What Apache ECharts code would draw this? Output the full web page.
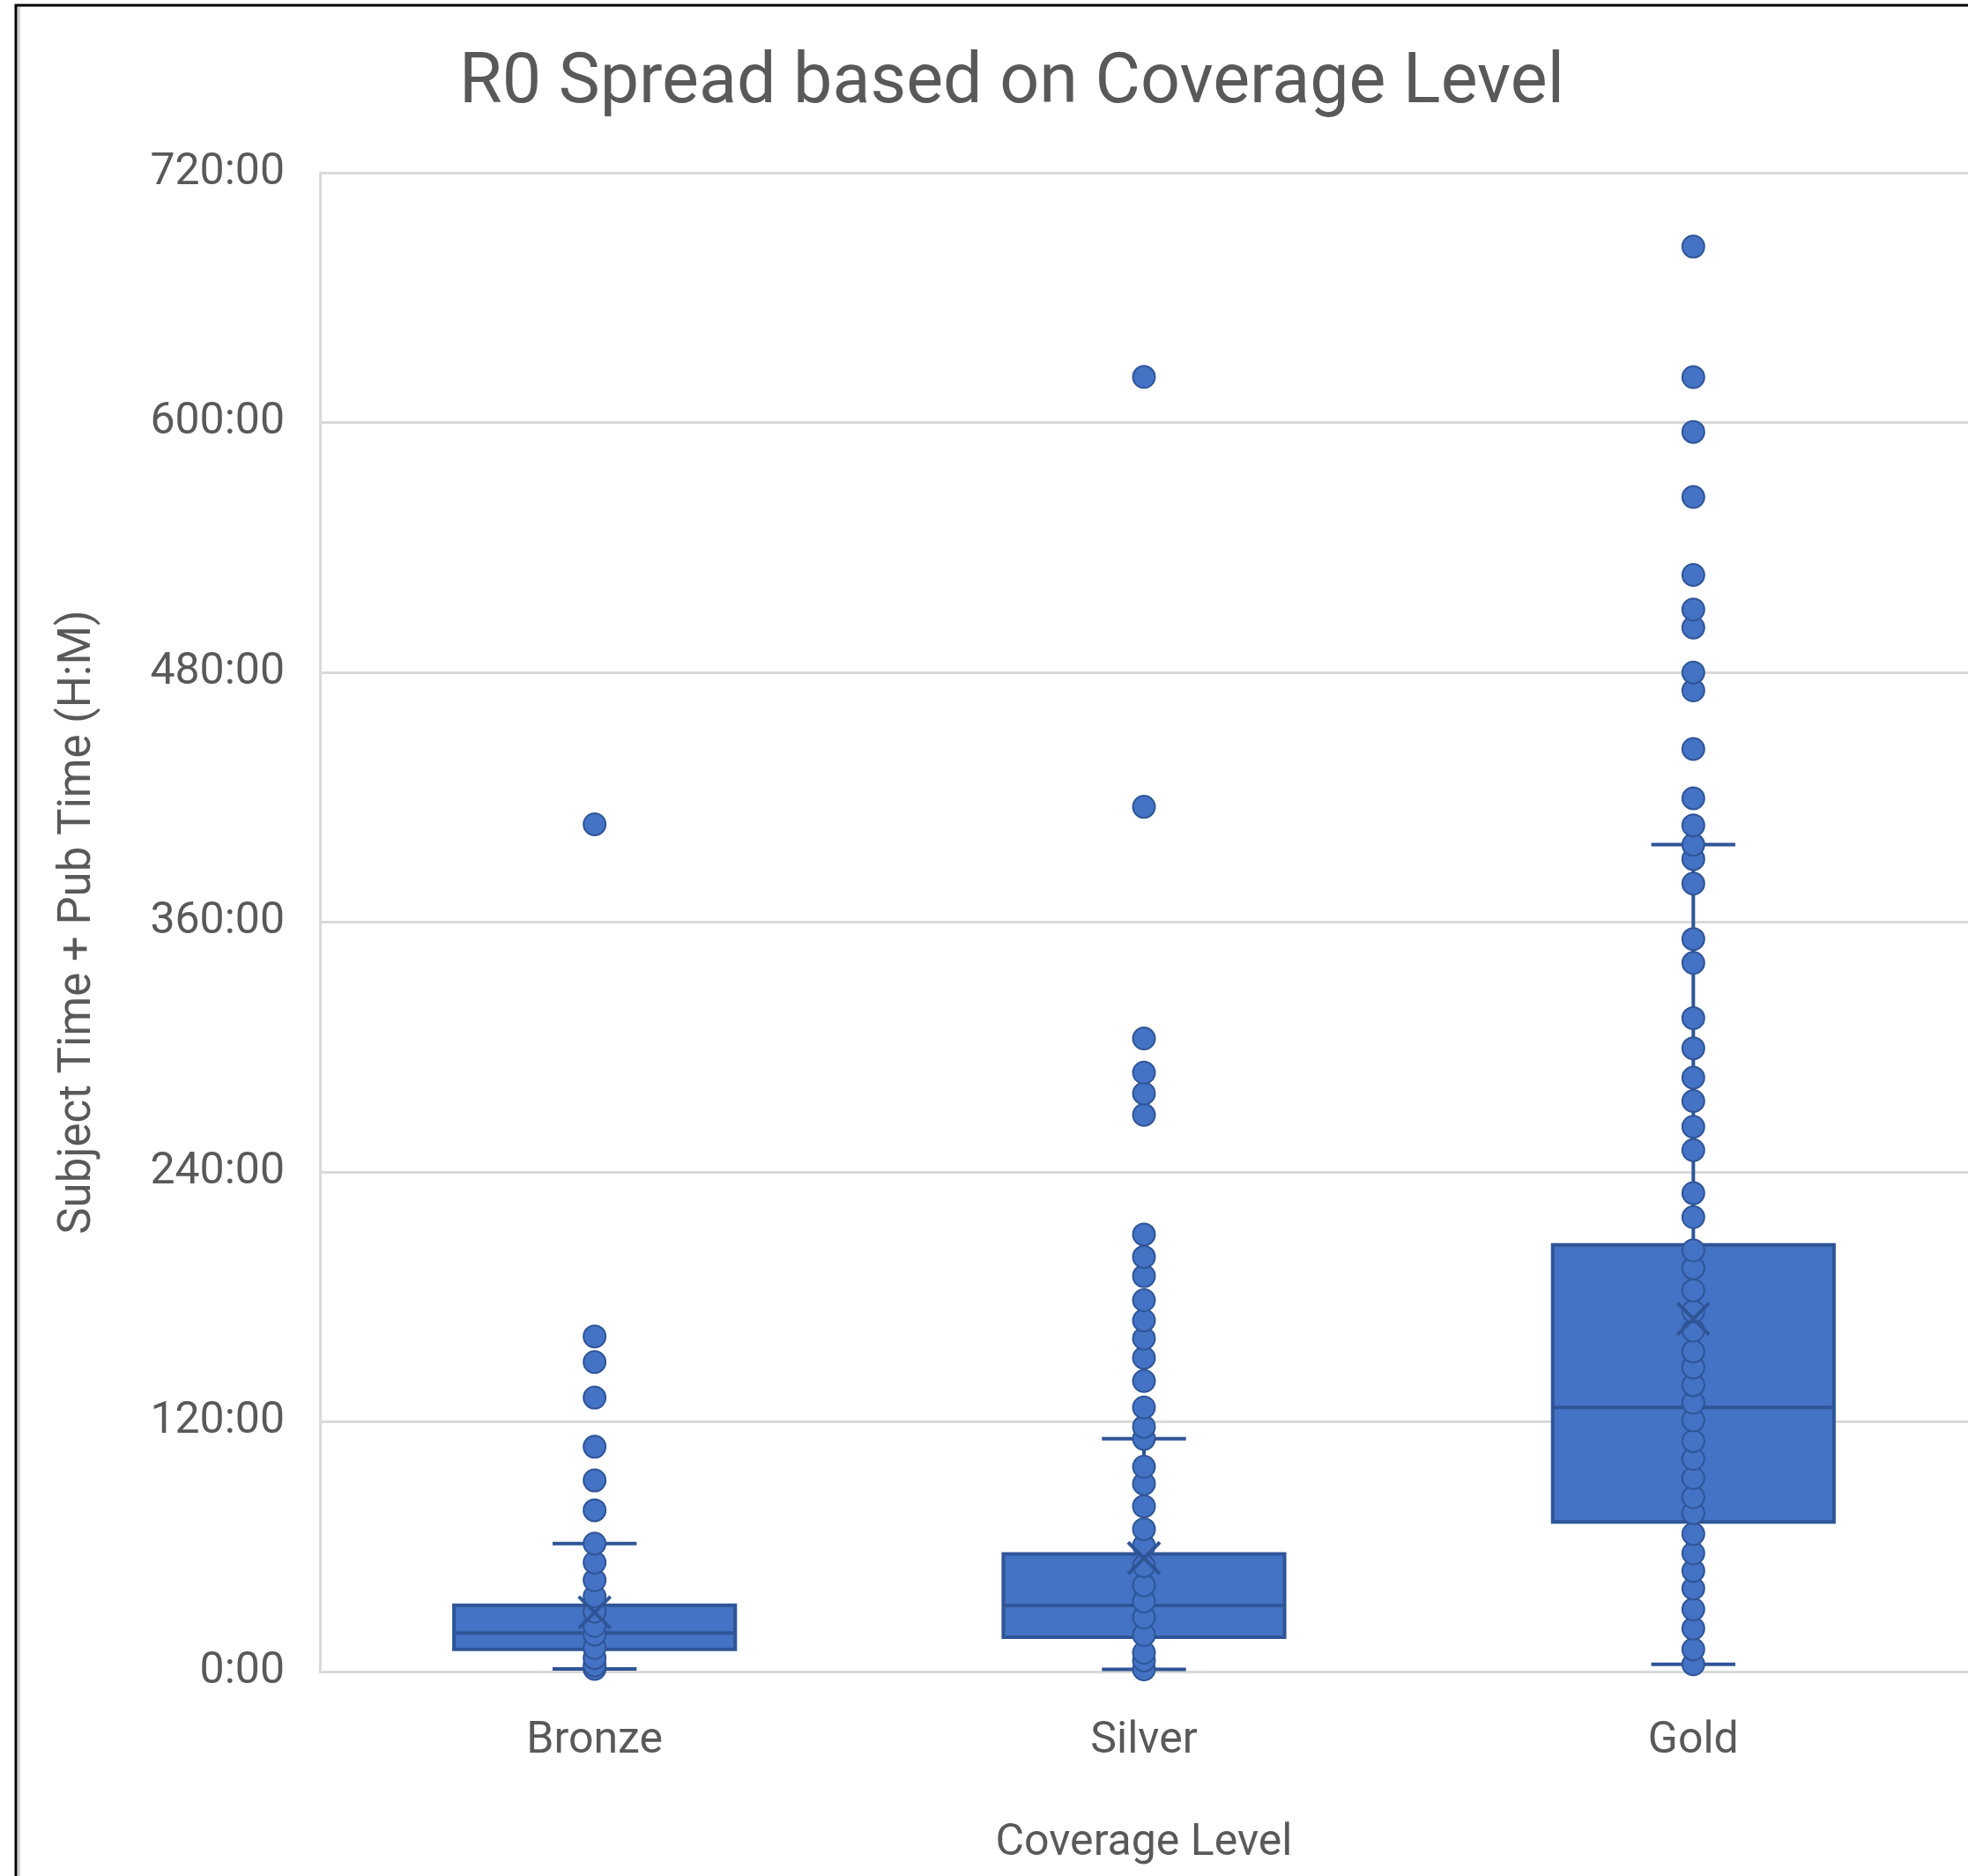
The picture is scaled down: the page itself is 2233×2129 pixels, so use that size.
<!DOCTYPE html>
<html>
<head>
<meta charset="utf-8">
<script src="https://cdn.jsdelivr.net/npm/echarts@6/dist/echarts.min.js"></script>
<style>
html,body{margin:0;padding:0;background:#fff;}
#chart{width:2233px;height:2129px;}
</style>
</head>
<body>
<div id="chart"></div>
<script>
// ---- data (hours) ----
const categories = ['Bronze', 'Silver', 'Gold'];
const yTicks = [0, 120, 240, 360, 480, 600, 720];

const whiskerLow  = [1.3, 1.1, 3.5];
const q1Values    = [10.7, 16.5, 71.8];
const medianVals  = [18.5, 31.7, 126.9];
const q3Values    = [31.9, 56.5, 205.0];
const whiskerHigh = [61.5, 111.8, 397.2];
const meanValues  = [28.4, 54.5, 169.5];

const bronzePoints = [1.3, 3.0, 6.5, 11.4, 17.8, 22.0, 28.8, 36.1, 43.9, 52.4, 61.5,
  77.5, 91.8, 108.0, 131.6, 148.7, 161.0, 407.0];
const silverPoints = [1.1, 5.3, 9.1, 17.6, 26.0, 33.7, 41.4, 50.7, 60.4, 68.4, 79.4, 90.2, 98.4, 111.8,
  117.6, 126.9, 139.6, 150.7, 160.0, 168.7, 178.4, 190.0, 199.2, 210.0,
  267.4, 277.7, 287.7, 304.1, 415.4, 621.9];
const goldPoints = [3.5, 10.7, 20.7, 29.9, 39.9, 48.4, 56.8, 66.1, 76.1, 83.8, 93.0, 102.2, 110.7,
  120.7, 129.2, 137.6, 146.1, 153.8, 163.8, 173.0, 183.1, 193.8, 202.3, 218.3, 229.8,
  250.5, 261.7, 274.1, 285.3, 299.4, 313.9, 340.4, 351.9, 378.5, 390.3, 397.2,
  406.5, 419.5, 443.2, 471.3, 479.9, 501.5, 510.2, 526.8, 564.2, 595.5, 621.8, 684.5];
const pointSets = [bronzePoints, silverPoints, goldPoints];

// ---- styles ----
const FILL = '#4472C4';
const EDGE = '#2F5597';
const TEXT = '#595959';
const GRID = '#D9D9D9';
const FONT = 'Roboto';

const boxData = categories.map((c, i) =>
  [i, whiskerLow[i], q1Values[i], medianVals[i], q3Values[i], whiskerHigh[i]]);
const meanData = categories.map((c, i) => [i, meanValues[i]]);
const scatterData = [];
pointSets.forEach((arr, i) => arr.forEach(v => scatterData.push([i, v])));

function renderBox(params, api) {
  const x = api.value(0);
  const pWL = api.coord([x, api.value(1)]);
  const pQ1 = api.coord([x, api.value(2)]);
  const pMd = api.coord([x, api.value(3)]);
  const pQ3 = api.coord([x, api.value(4)]);
  const pWH = api.coord([x, api.value(5)]);
  const band = api.size([1, 0])[0];
  const bw = band * 0.512;
  const cw = band * 0.153;
  const cx = pQ1[0];
  const ls = { stroke: EDGE, lineWidth: 4 };
  return {
    type: 'group',
    children: [
      { type: 'line', shape: { x1: cx, y1: pWH[1], x2: cx, y2: pQ3[1] }, style: ls },
      { type: 'line', shape: { x1: cx, y1: pQ1[1], x2: cx, y2: pWL[1] }, style: ls },
      { type: 'line', shape: { x1: cx - cw / 2, y1: pWH[1], x2: cx + cw / 2, y2: pWH[1] }, style: ls },
      { type: 'line', shape: { x1: cx - cw / 2, y1: pWL[1], x2: cx + cw / 2, y2: pWL[1] }, style: ls },
      { type: 'rect', shape: { x: cx - bw / 2, y: pQ3[1], width: bw, height: pQ1[1] - pQ3[1] },
        style: { fill: FILL, stroke: EDGE, lineWidth: 4 } },
      { type: 'line', shape: { x1: cx - bw / 2, y1: pMd[1], x2: cx + bw / 2, y2: pMd[1] }, style: ls }
    ]
  };
}

function renderMean(params, api) {
  const p = api.coord([api.value(0), api.value(1)]);
  const h = 18;
  const ls = { stroke: EDGE, lineWidth: 4 };
  return {
    type: 'group',
    children: [
      { type: 'line', shape: { x1: p[0] - h, y1: p[1] - h, x2: p[0] + h, y2: p[1] + h }, style: ls },
      { type: 'line', shape: { x1: p[0] - h, y1: p[1] + h, x2: p[0] + h, y2: p[1] - h }, style: ls }
    ]
  };
}

const chart = echarts.init(document.getElementById('chart'), null, { renderer: 'canvas' });
chart.setOption({
  animation: false,
  backgroundColor: '#ffffff',
  textStyle: { fontFamily: FONT },
  title: {
    text: 'R0 Spread based on Coverage Level',
    left: 1148,
    top: 57,
    padding: 0,
    textAlign: 'center',
    textStyle: { color: TEXT, fontSize: 79, fontWeight: 'normal', fontFamily: FONT }
  },
  grid: { left: 363, top: 196, width: 1870, bottom: 232, containLabel: false, outerBoundsMode: 'none' },
  xAxis: {
    type: 'category',
    data: categories,
    boundaryGap: true,
    axisTick: { show: false },
    axisLine: { show: true, lineStyle: { color: GRID, width: 3 } },
    axisLabel: { color: TEXT, fontSize: 50, margin: 54, fontFamily: FONT },
    splitLine: { show: false },
    name: 'Coverage Level',
    nameLocation: 'middle',
    nameGap: 170,
    nameTextStyle: { color: TEXT, fontSize: 50, fontFamily: FONT }
  },
  yAxis: {
    type: 'value',
    min: yTicks[0],
    max: yTicks[yTicks.length - 1],
    interval: yTicks[1] - yTicks[0],
    axisTick: { show: false },
    axisLine: { show: true, lineStyle: { color: GRID, width: 3 } },
    splitLine: { show: true, lineStyle: { color: GRID, width: 3 } },
    axisLabel: { color: TEXT, fontSize: 50, margin: 40, fontFamily: FONT, padding: [6, 0, 0, 0],
      formatter: v => v + ':00' },
    name: 'Subject Time + Pub Time (H:M)',
    nameLocation: 'middle',
    nameGap: 248,
    nameTextStyle: { color: TEXT, fontSize: 51, fontFamily: FONT }
  },
  graphic: [
    { type: 'rect', shape: { x: 18, y: 6, width: 3000, height: 3000 },
      style: { fill: 'none', stroke: '#000000', lineWidth: 3 }, silent: true },
    { type: 'line', shape: { x1: 21.5, y1: 8, x2: 21.5, y2: 2129 },
      style: { stroke: '#D0D0D0', lineWidth: 3 }, silent: true }
  ],
  series: [
    { type: 'custom', name: 'box', renderItem: renderBox, data: boxData,
      encode: { x: 0, y: [1, 2, 3, 4, 5] }, z: 2 },
    { type: 'scatter', name: 'points', data: scatterData, symbol: 'circle', symbolSize: 25,
      itemStyle: { color: FILL, borderColor: EDGE, borderWidth: 2, opacity: 1 }, z: 3 },
    { type: 'custom', name: 'mean', renderItem: renderMean, data: meanData,
      encode: { x: 0, y: 1 }, z: 4 }
  ]
});
</script>
</body>
</html>
